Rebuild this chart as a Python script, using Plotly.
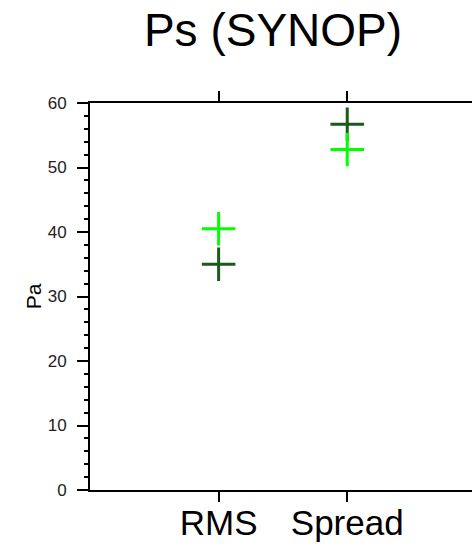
import plotly.graph_objects as go

categories = ["RMS", "Spread"]
cat_pos = [1, 2]
dark_values = [35.0, 56.7]
light_values = [40.5, 52.8]
y_ticks = [0, 10, 20, 30, 40, 50, 60]

fig = go.Figure()
fig.add_trace(go.Scatter(x=cat_pos, y=dark_values, mode="markers",
                         marker=dict(symbol="cross-thin", size=24,
                                     line=dict(color="#1A5A1A", width=3)),
                         showlegend=False))
fig.add_trace(go.Scatter(x=cat_pos, y=light_values, mode="markers",
                         marker=dict(symbol="cross-thin", size=24,
                                     line=dict(color="#00FF00", width=3)),
                         showlegend=False))

fig.update_layout(
    width=472, height=545,
    margin=dict(l=90, r=0, t=103, b=55),
    plot_bgcolor="white", paper_bgcolor="white",
    font=dict(family="Liberation Sans, Arial, sans-serif", color="black"),
    title=dict(text="Ps (SYNOP)", x=273/472, xanchor="center",
               y=1 - 30/545, yanchor="middle",
               font=dict(size=46, color="black")),
    xaxis=dict(range=[0, 2.97], tickvals=cat_pos, ticktext=categories,
               showline=True, linecolor="black", linewidth=2,
               ticks="outside", ticklen=10, tickwidth=2, tickcolor="black",
               ticklabelstandoff=-9, automargin=False,
               mirror="ticks", showgrid=False, zeroline=False,
               tickfont=dict(size=35, color="black")),
    yaxis=dict(range=[0, 60], tickvals=y_ticks,
               showline=True, linecolor="black", linewidth=2,
               ticks="outside", ticklen=11, tickwidth=2, tickcolor="black",
               ticklabelstandoff=7, automargin=False,
               minor=dict(dtick=2, ticks="outside", ticklen=4, tickwidth=1.5,
                          tickcolor="black", showgrid=False),
               showgrid=False, zeroline=False, mirror=False,
               tickfont=dict(size=17, color="#222222"),
               title=dict(text="Pa", font=dict(size=21, color="black"), standoff=0)),
)

fig.write_html("out.html")
